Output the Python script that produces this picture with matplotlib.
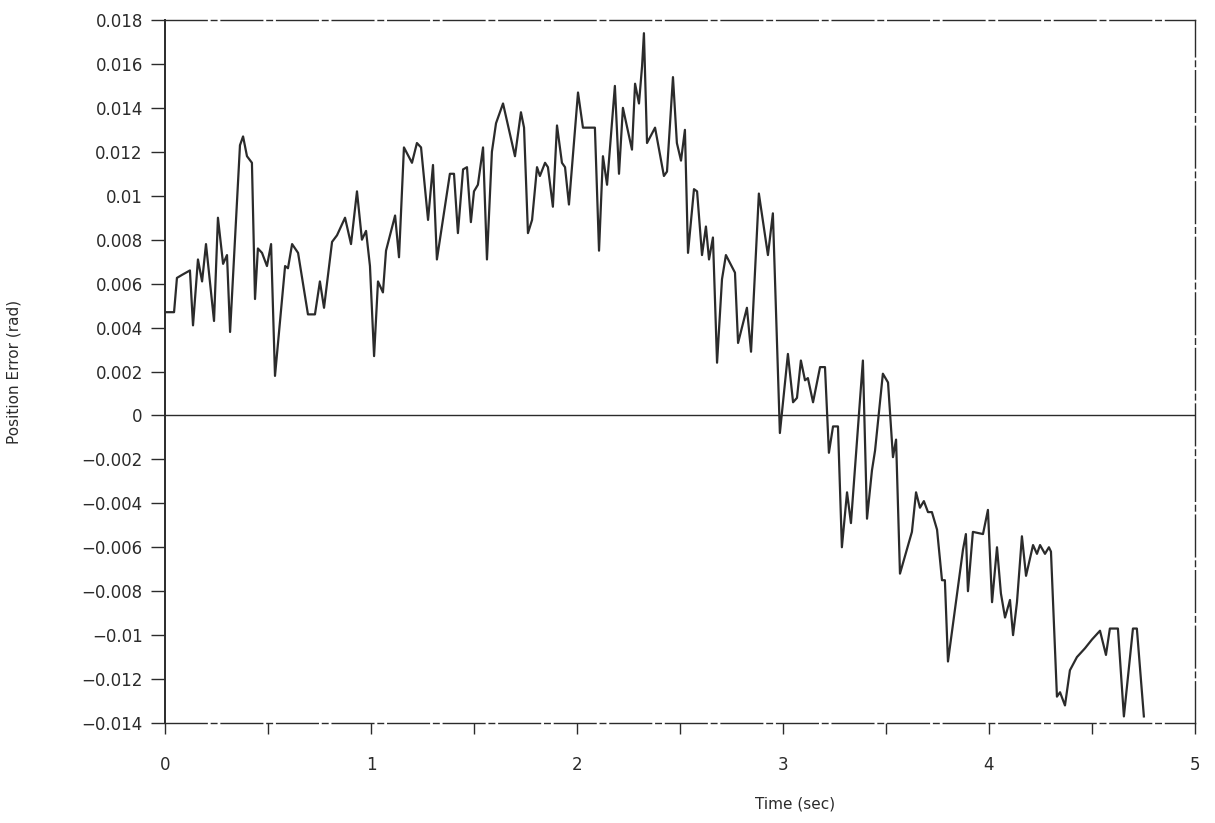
import numpy as np
import matplotlib
matplotlib.use('Agg')
import matplotlib.pyplot as plt
from matplotlib.ticker import FuncFormatter, MultipleLocator

# Time (sec) and position error (x 1e-3 rad)
time = [0.000, 0.044, 0.058, 0.083, 0.121, 0.136, 0.160, 0.180, 0.199, 0.238,
        0.257, 0.282, 0.301, 0.316, 0.364, 0.379, 0.398, 0.422, 0.437, 0.451,
        0.471, 0.495, 0.515, 0.534, 0.583, 0.597, 0.617, 0.646, 0.694, 0.728,
        0.752, 0.772, 0.811, 0.835, 0.874, 0.903, 0.932, 0.956, 0.976, 0.995,
        1.015, 1.034, 1.058, 1.073, 1.117, 1.136, 1.160, 1.199, 1.223, 1.243,
        1.277, 1.301, 1.320, 1.383, 1.403, 1.422, 1.447, 1.466, 1.485, 1.500,
        1.519, 1.544, 1.563, 1.587, 1.607, 1.641, 1.699, 1.728, 1.743, 1.762,
        1.782, 1.806, 1.820, 1.845, 1.859, 1.883, 1.903, 1.927, 1.942, 1.961,
        2.005, 2.029, 2.087, 2.107, 2.126, 2.146, 2.184, 2.204, 2.223, 2.267,
        2.282, 2.301, 2.316, 2.325, 2.340, 2.379, 2.422, 2.437, 2.466, 2.485,
        2.505, 2.524, 2.539, 2.568, 2.583, 2.607, 2.626, 2.641, 2.660, 2.680,
        2.704, 2.723, 2.767, 2.782, 2.825, 2.845, 2.883, 2.927, 2.951, 2.985,
        3.024, 3.049, 3.068, 3.087, 3.107, 3.121, 3.146, 3.180, 3.204, 3.223,
        3.243, 3.267, 3.286, 3.311, 3.330, 3.388, 3.408, 3.432, 3.447, 3.485,
        3.510, 3.534, 3.549, 3.568, 3.626, 3.646, 3.665, 3.684, 3.704, 3.723,
        3.748, 3.772, 3.786, 3.801, 3.874, 3.888, 3.898, 3.922, 3.971, 3.995,
        4.015, 4.039, 4.058, 4.078, 4.102, 4.117, 4.136, 4.160, 4.180, 4.214,
        4.233, 4.248, 4.272, 4.291, 4.301, 4.330, 4.345, 4.369, 4.393, 4.427,
        4.466, 4.500, 4.539, 4.568, 4.587, 4.626, 4.655, 4.699, 4.718, 4.752]

error_milli = [4.7, 4.7, 6.26, 6.4, 6.6, 4.1, 7.1, 6.1, 7.8, 4.3,
               9.0, 6.9, 7.3, 3.8, 12.3, 12.7, 11.8, 11.5, 5.3, 7.6,
               7.4, 6.8, 7.8, 1.8, 6.8, 6.7, 7.8, 7.4, 4.6, 4.6,
               6.1, 4.9, 7.9, 8.2, 9.0, 7.8, 10.2, 8.0, 8.4, 6.8,
               2.7, 6.1, 5.6, 7.5, 9.1, 7.2, 12.2, 11.5, 12.4, 12.2,
               8.9, 11.4, 7.1, 11.0, 11.0, 8.3, 11.2, 11.3, 8.8, 10.2,
               10.5, 12.2, 7.1, 12.0, 13.3, 14.2, 11.8, 13.8, 13.1, 8.3,
               8.9, 11.3, 10.9, 11.5, 11.3, 9.5, 13.2, 11.5, 11.3, 9.6,
               14.7, 13.1, 13.1, 7.5, 11.8, 10.5, 15.0, 11.0, 14.0, 12.1,
               15.1, 14.2, 15.9, 17.4, 12.4, 13.1, 10.9, 11.1, 15.4, 12.4,
               11.6, 13.0, 7.4, 10.3, 10.2, 7.3, 8.6, 7.1, 8.1, 2.4,
               6.2, 7.3, 6.5, 3.3, 4.9, 2.9, 10.1, 7.3, 9.2, -0.8,
               2.8, 0.6, 0.8, 2.5, 1.6, 1.7, 0.6, 2.2, 2.2, -1.7,
               -0.5, -0.5, -6.0, -3.5, -4.9, 2.5, -4.7, -2.5, -1.6, 1.9,
               1.5, -1.9, -1.1, -7.2, -5.3, -3.5, -4.2, -3.9, -4.4, -4.4,
               -5.2, -7.5, -7.5, -11.2, -6.1, -5.4, -8.0, -5.3, -5.4, -4.3,
               -8.5, -6.0, -8.1, -9.2, -8.4, -10.0, -8.5, -5.5, -7.3, -5.9,
               -6.3, -5.9, -6.3, -6.0, -6.2, -12.8, -12.6, -13.2, -11.6, -11.0,
               -10.6, -10.2, -9.8, -10.9, -9.7, -9.7, -13.7, -9.7, -9.7, -13.7]

error = np.array(error_milli) * 1e-3

ink = '#2b2b2b'
fs = 12

fig = plt.figure(figsize=(12.15, 8.23), dpi=100)
ax = fig.add_axes([0.1358, 0.1215, 0.8477, 0.8542])

ax.plot(time, error, color=ink, linewidth=1.6)
ax.axhline(0, color=ink, linewidth=1.0)

ax.set_xlim(0, 5)
ax.set_ylim(-0.014, 0.018)
ax.xaxis.set_major_locator(MultipleLocator(1))
ax.xaxis.set_minor_locator(MultipleLocator(0.5))
ax.yaxis.set_major_locator(MultipleLocator(0.002))
ax.yaxis.set_major_formatter(FuncFormatter(
    lambda v, p: ('%g' % round(v, 4)).replace('-', '\u2212') if abs(v) > 1e-9 else '0'))

ax.tick_params(axis='x', which='both', direction='out', length=8, width=1,
               color=ink, labelsize=fs, pad=16, labelcolor=ink)
ax.tick_params(axis='y', direction='out', length=10, width=1, color=ink,
               labelsize=fs, pad=6, labelcolor=ink)

# scanned frame: long dashes on top, right and bottom
for side in ['top', 'right', 'bottom']:
    ax.spines[side].set_linestyle((0, (30, 3, 4, 3)))
    ax.spines[side].set_linewidth(1.0)
    ax.spines[side].set_color(ink)
ax.spines['left'].set_linewidth(1.4)
ax.spines['left'].set_color(ink)

ax.set_xlabel('Time (sec)', fontsize=11, color=ink)
ax.xaxis.set_label_coords(0.612, -0.105)
ax.set_ylabel('Position Error (rad)', fontsize=11, color=ink)
ax.yaxis.set_label_coords(-0.139, 0.5)

fig.savefig('out.png', dpi=100)
